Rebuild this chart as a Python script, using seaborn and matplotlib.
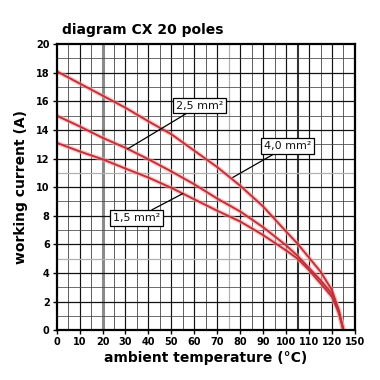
import matplotlib
matplotlib.use("Agg")
import matplotlib.pyplot as plt
import seaborn as sns
import pandas as pd

# ---- data ----
temp_40 = [0, 10, 20, 30, 40, 50, 60, 70, 80, 90, 100, 105, 110, 115, 120, 122.5, 125]
cur_40 = [18.1, 17.25, 16.4, 15.55, 14.6, 13.7, 12.55, 11.4, 10.1, 8.65, 6.9, 6.05, 5.07, 4.1, 2.8, 1.6, 0.0]

temp_25 = [0, 10, 20, 30, 40, 50, 60, 70, 80, 90, 100, 105, 110, 115, 120, 123, 125]
cur_25 = [15.0, 14.25, 13.45, 12.75, 11.95, 11.1, 10.2, 9.2, 8.3, 7.2, 5.93, 5.2, 4.35, 3.5, 2.55, 1.4, 0.0]

temp_15 = [0, 10, 20, 30, 40, 50, 60, 70, 80, 90, 100, 105, 110, 115, 120, 123, 125]
cur_15 = [13.1, 12.5, 11.95, 11.3, 10.67, 9.95, 9.15, 8.35, 7.6, 6.65, 5.58, 5.0, 4.2, 3.28, 2.33, 1.2, 0.0]

series_names = ["4,0 mm²", "2,5 mm²", "1,5 mm²"]
x_ticks = [0, 10, 20, 30, 40, 50, 60, 70, 80, 90, 100, 110, 120, 130]
x_tick_labels = ["0", "10", "20", "30", "40", "50", "60", "70", "80", "90", "100", "110", "120", "150"]
y_ticks = [0, 2, 4, 6, 8, 10, 12, 14, 16, 18, 20]

# label boxes: (box x, box y, leader end x, leader end y)
label_pos = {
    "2,5 mm²": (62.3, 15.7, 31.0, 12.68),
    "4,0 mm²": (100.6, 12.86, 76.8, 10.68),
    "1,5 mm²": (34.7, 7.84, 55.0, 9.55),
}

df = pd.concat([
    pd.DataFrame({"temp": temp_40, "current": cur_40, "section": series_names[0]}),
    pd.DataFrame({"temp": temp_25, "current": cur_25, "section": series_names[1]}),
    pd.DataFrame({"temp": temp_15, "current": cur_15, "section": series_names[2]}),
])

sns.set_style("white")
plt.rcParams["font.family"] = ["DejaVu Sans"]
plt.rcParams["text.color"] = "black"
plt.rcParams["axes.labelcolor"] = "black"
plt.rcParams["xtick.color"] = "black"
plt.rcParams["ytick.color"] = "black"

fig = plt.figure(figsize=(3.8, 3.8), dpi=100)
ax = fig.add_axes([0.149, 0.131, 0.785, 0.753])

# grid
for xv in range(5, 130, 5):
    if xv == 20:
        ax.axvline(xv, color="#8a8a8a", lw=2.2, zorder=1)
    elif xv == 75:
        ax.axvline(xv, color="#b0b0b0", lw=0.9, zorder=1)
    elif xv == 105:
        ax.axvline(xv, color="#333333", lw=1.5, zorder=1)
    elif xv % 10 == 0:
        ax.axvline(xv, color="#111111", lw=0.85, zorder=1)
    else:
        ax.axvline(xv, color="#444444", lw=0.6, zorder=1)
for yv in range(1, 20):
    if yv in (5, 11):
        ax.axhline(yv, color="#b0b0b0", lw=0.9, zorder=1)
    elif yv % 2 == 0:
        ax.axhline(yv, color="#111111", lw=0.9, zorder=1)
    else:
        ax.axhline(yv, color="#444444", lw=0.55, zorder=1)

pal = {n: "#f4a8a8" for n in series_names}
sns.lineplot(data=df, x="temp", y="current", hue="section", palette=pal,
             lw=3.4, alpha=0.55, legend=False, ax=ax, zorder=3, sort=False)
pal2 = {n: "#c4303a" for n in series_names}
sns.lineplot(data=df, x="temp", y="current", hue="section", palette=pal2,
             lw=1.4, legend=False, ax=ax, zorder=4, sort=False)

for name, (bx, by, lx, ly) in label_pos.items():
    ax.annotate(name, xy=(lx, ly), xytext=(bx, by), ha="center", va="center",
                fontsize=8, color="#111111",
                bbox=dict(boxstyle="square,pad=0.25", fc="white", ec="black", lw=0.9),
                arrowprops=dict(arrowstyle="-", color="black", lw=0.9,
                                shrinkA=0, shrinkB=0),
                zorder=6)

ax.set_xlim(0, 130)
ax.set_ylim(0, 20)
ax.set_xticks(x_ticks)
ax.set_xticklabels(x_tick_labels)
ax.set_yticks(y_ticks)
ax.tick_params(axis="both", labelsize=7, length=3, width=1, pad=2, direction="out",
               left=True, bottom=True)
for lab in ax.get_xticklabels() + ax.get_yticklabels():
    lab.set_fontweight("bold")
for s in ax.spines.values():
    s.set_color("black")
    s.set_linewidth(1.6)
    s.set_zorder(5)

ax.set_xlabel("ambient temperature (°C)", fontsize=10, fontweight="bold", labelpad=3)
ax.set_ylabel("working current (A)", fontsize=10, fontweight="bold", labelpad=6)
fig.text(0.163, 0.922, "diagram CX 20 poles", fontsize=10, fontweight="bold",
         ha="left", va="center")

fig.savefig("out.png", dpi=100, facecolor="white")
